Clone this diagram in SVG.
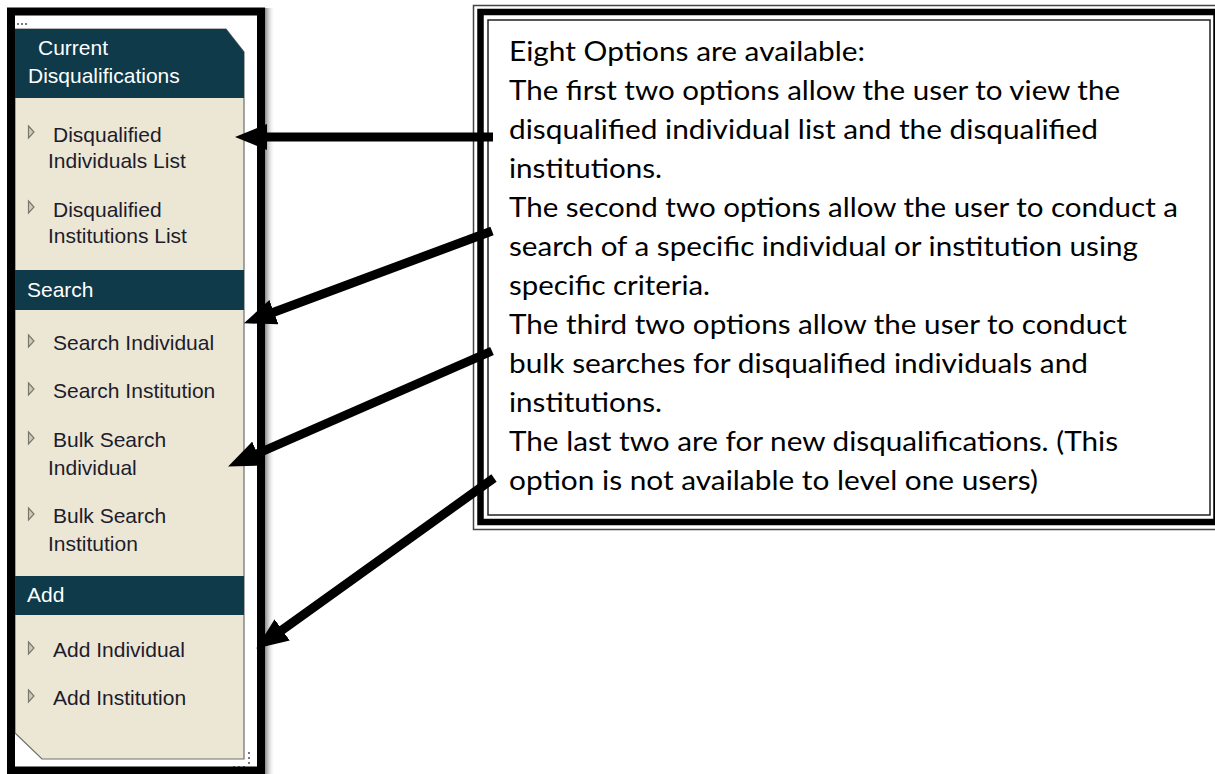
<svg xmlns="http://www.w3.org/2000/svg" width="1215" height="774" viewBox="0 0 1215 774">
<defs>
<style>
.hd{font-family:"Liberation Sans",Arial,sans-serif;font-size:21px;fill:#ffffff}
.it{font-family:"Liberation Sans",Arial,sans-serif;font-size:21px;fill:#1c1c2c}
.bar{fill:#0e3a4a}
.tri{fill:#cfc9b7;stroke:#77776e;stroke-width:1.2}
.bx{font-family:Lato,"Open Sans",sans-serif;font-size:27px;fill:#000}
.arr{stroke:#000;stroke-width:9;fill:none;marker-end:url(#ah)}
.dot{fill:#777}
</style>
<marker id="ah" markerUnits="userSpaceOnUse" markerWidth="32" markerHeight="26" viewBox="0 0 32 26" refX="1" refY="13" orient="auto">
<path d="M0,0 L32,13 L0,26 z" fill="#000"/>
</marker>
<linearGradient id="sh" x1="0" y1="0" x2="1" y2="0">
<stop offset="0" stop-color="#888"/>
<stop offset="1" stop-color="#fff" stop-opacity="0"/>
</linearGradient>
</defs>
<rect width="1215" height="774" fill="#fff"/>

<g id="menu-panel">
<rect x="265" y="8" width="10" height="766" fill="url(#sh)"/>
<rect x="15" y="15" width="242" height="752" fill="#fff"/>
<polygon points="15,29 226,29 244,52 244,759 42,759 15,733" fill="#ece6d4" stroke="#6e6e6e" stroke-width="1.2"/>
<rect class="dot" x="17" y="23" width="2" height="2"/><rect class="dot" x="21" y="23" width="2" height="2"/><rect class="dot" x="25" y="23" width="2" height="2"/>
<rect class="dot" x="248" y="752" width="2" height="2"/><rect class="dot" x="248" y="757" width="2" height="2"/><rect class="dot" x="248" y="762" width="2" height="2"/>
<rect class="dot" x="233" y="766" width="2" height="2"/><rect class="dot" x="238" y="766" width="2" height="2"/><rect class="dot" x="243" y="766" width="2" height="2"/>
</g>

<g id="header-current">
<polygon class="bar" points="15,29 226,29 244,52 244,98 15,98"/>
<text class="hd" x="38" y="55">Current</text>
<text class="hd" x="28" y="83">Disqualifications</text>
</g>
<g id="item-disq-individuals">
<polygon class="tri" points="28.5,126 34,132 28.5,138"/>
<text class="it" x="53" y="142">Disqualified</text>
<text class="it" x="48" y="168">Individuals List</text>
</g>
<g id="item-disq-institutions">
<polygon class="tri" points="28.5,201 34,207 28.5,213"/>
<text class="it" x="53" y="217">Disqualified</text>
<text class="it" x="48" y="243">Institutions List</text>
</g>

<g id="header-search">
<rect class="bar" x="15" y="270" width="229" height="40"/>
<text class="hd" x="27" y="297">Search</text>
</g>
<g id="item-search-individual">
<polygon class="tri" points="28.5,335 34,341 28.5,347"/>
<text class="it" x="53" y="350">Search Individual</text>
</g>
<g id="item-search-institution">
<polygon class="tri" points="28.5,383 34,389 28.5,395"/>
<text class="it" x="53" y="398">Search Institution</text>
</g>
<g id="item-bulk-individual">
<polygon class="tri" points="28.5,432 34,438 28.5,444"/>
<text class="it" x="53" y="447">Bulk Search</text>
<text class="it" x="48" y="475">Individual</text>
</g>
<g id="item-bulk-institution">
<polygon class="tri" points="28.5,508 34,514 28.5,520"/>
<text class="it" x="53" y="523">Bulk Search</text>
<text class="it" x="48" y="551">Institution</text>
</g>

<g id="header-add">
<rect class="bar" x="15" y="576" width="229" height="39"/>
<text class="hd" x="27" y="602">Add</text>
</g>
<g id="item-add-individual">
<polygon class="tri" points="28.5,642 34,648 28.5,654"/>
<text class="it" x="53" y="657">Add Individual</text>
</g>
<g id="item-add-institution">
<polygon class="tri" points="28.5,690 34,696 28.5,702"/>
<text class="it" x="53" y="705">Add Institution</text>
</g>

<g id="panel-frame">
<rect x="11" y="11.5" width="250" height="759" fill="none" stroke="#000" stroke-width="8"/>
</g>

<g id="note-box">
<rect x="473.5" y="5.5" width="752" height="524" fill="#fff" stroke="#444" stroke-width="1.5"/>
<rect x="480.5" y="12" width="736" height="510" fill="none" stroke="#000" stroke-width="6.5"/>
<rect x="488" y="20" width="722" height="495" fill="#fff" stroke="#222" stroke-width="1.5"/>
<text class="bx" x="509" y="61" textLength="356" lengthAdjust="spacingAndGlyphs">Eight Options are available:</text>
<text class="bx" x="509" y="100" textLength="611" lengthAdjust="spacingAndGlyphs">The first two options allow the user to view the</text>
<text class="bx" x="509" y="139" textLength="589" lengthAdjust="spacingAndGlyphs">disqualified individual list and the disqualified</text>
<text class="bx" x="509" y="178" textLength="153" lengthAdjust="spacingAndGlyphs">institutions.</text>
<text class="bx" x="509" y="217" textLength="669" lengthAdjust="spacingAndGlyphs">The second two options allow the user to conduct a</text>
<text class="bx" x="509" y="256" textLength="629" lengthAdjust="spacingAndGlyphs">search of a specific individual or institution using</text>
<text class="bx" x="509" y="295" textLength="201" lengthAdjust="spacingAndGlyphs">specific criteria.</text>
<text class="bx" x="509" y="334" textLength="618" lengthAdjust="spacingAndGlyphs">The third two options allow the user to conduct</text>
<text class="bx" x="509" y="373" textLength="579" lengthAdjust="spacingAndGlyphs">bulk searches for disqualified individuals and</text>
<text class="bx" x="509" y="412" textLength="153" lengthAdjust="spacingAndGlyphs">institutions.</text>
<text class="bx" x="509" y="451" textLength="609" lengthAdjust="spacingAndGlyphs">The last two are for new disqualifications. (This</text>
<text class="bx" x="509" y="490" textLength="529" lengthAdjust="spacingAndGlyphs">option is not available to level one users)</text>
</g>

<g id="connectors">
<line class="arr" x1="493" y1="137" x2="266" y2="137"/>
<line class="arr" x1="492" y1="231" x2="273" y2="312.5"/>
<line class="arr" x1="492" y1="351" x2="256.5" y2="454"/>
<line class="arr" x1="494" y1="478" x2="281.4" y2="630.5"/>
</g>
</svg>
